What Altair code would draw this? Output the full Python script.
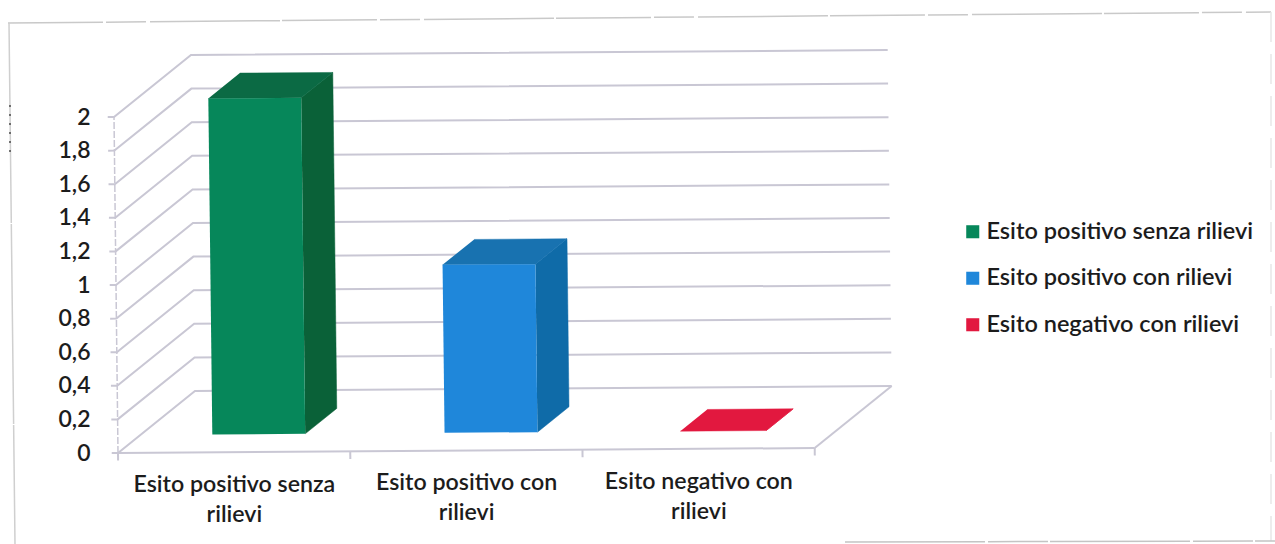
import altair as alt
import pandas as pd

# Chart values
CATEGORIES = ["Esito positivo senza rilievi", "Esito positivo con rilievi", "Esito negativo con rilievi"]
VALUES = [2, 1, 0]
AXIS_LABELS = ["Esito positivo senza\nrilievi", "Esito positivo con\nrilievi", "Esito negativo con\nrilievi"]
TICKS = [0, 0.2, 0.4, 0.6, 0.8, 1, 1.2, 1.4, 1.6, 1.8, 2]

FRONT = ["#06875a", "#1f87da", "#e2183f"]
SIDE = ["#0a6138", "#0f6ba8", "#e2183f"]
TOP = ["#0b6a44", "#1872b0", "#e2183f"]
GRID = "#c9c7d4"
FONT = "Lato"
WEIGHT = 600

# Oblique projection of (category, value, depth) into the chart's data space
DEPTH_X, DEPTH_Y = 0.3314, 0.369
TILT, LEAN = 0.0099, 0.0086
BAR_START = [0.31, 0.31, 0.325]
BAR_WIDTH = [0.40, 0.40, 0.37]
DEPTH_NEAR = 0.29
DEPTH_FAR = [0.70, 0.70, 0.64]


def project(cat, val, depth):
    return cat + depth * DEPTH_X - val * LEAN, val + cat * TILT + depth * DEPTH_Y


def path(rows, name):
    out = []
    for i, (c, v, d) in enumerate(rows):
        px, py = project(c, v, d)
        out.append({"px": px, "py": py, "seq": i, "path": name})
    return out


x_scale = alt.Scale(domain=[0, 3.35], nice=False, zero=False)
y_scale = alt.Scale(domain=[0, 2.5], nice=False, zero=False)
X = alt.X("px:Q", scale=x_scale, axis=None)
Y = alt.Y(
    "py:Q",
    scale=y_scale,
    axis=alt.Axis(
        values=TICKS,
        labelExpr="replace(format(datum.value, '.1~f'), '.', ',')",
        domain=False,
        ticks=False,
        grid=False,
        title=None,
        labelPadding=28,
        labelFont=FONT,
        labelFontSize=23,
        labelFontWeight=WEIGHT,
        labelColor="#1c1c1c",
    ),
)

# Wall and floor gridlines, with their tick stubs
grid_rows = []
for t in TICKS:
    grid_rows += path([(-0.027, t, 0), (0, t, 0), (0, t, 1), (3, t, 1)], f"g{t}")
grid_rows += path([(3, 0, 1), (3, 0, 0)], "floor-edge")
grid = alt.Chart(pd.DataFrame(grid_rows)).mark_line(color=GRID, strokeWidth=2, clip=False).encode(
    x=X, y=Y, detail="path:N", order="seq:Q"
)

axis_rows = path([(0, 0, 0), (3, 0, 0)], "x-axis")
for c in range(4):
    axis_rows += path([(c, 0, 0), (c, -0.045, 0)], f"t{c}")
axes = alt.Chart(pd.DataFrame(axis_rows)).mark_line(color=GRID, strokeWidth=2, clip=False).encode(
    x=X, y=Y, detail="path:N", order="seq:Q"
)

# The vertical axis reads lighter and broken
value_axis = alt.Chart(pd.DataFrame(path([(0, 0, 0), (0, 2, 0)], "y-axis"))).mark_line(
    color=GRID, strokeWidth=1.5, strokeDash=[7, 2], clip=False
).encode(x=X, y=Y, order="seq:Q")

# Bar faces, each computed from its value
layers = [grid, axes, value_axis]
front_rows = []
for i, (name, v) in enumerate(zip(CATEGORIES, VALUES)):
    x0, x1 = i + BAR_START[i], i + BAR_START[i] + BAR_WIDTH[i]
    n, f = DEPTH_NEAR, DEPTH_FAR[i]
    for color, rows in (
        (SIDE[i], [(x1, 0, n), (x1, 0, f), (x1, v, f), (x1, v, n)]),
        (TOP[i], [(x0, v, n), (x1, v, n), (x1, v, f), (x0, v, f)]),
    ):
        layers.append(
            alt.Chart(pd.DataFrame(path(rows, name)))
            .mark_line(filled=True, color=color, fill=color, stroke=color, strokeWidth=0.5, clip=False)
            .encode(x=X, y=Y, order="seq:Q")
        )
    for r in path([(x0, 0, n), (x1, 0, n), (x1, v, n), (x0, v, n)], name):
        r["serie"] = name
        front_rows.append(r)

front = alt.Chart(pd.DataFrame(front_rows)).mark_line(filled=True, clip=False).encode(
    x=X,
    y=Y,
    order="seq:Q",
    color=alt.Color(
        "serie:N",
        scale=alt.Scale(domain=CATEGORIES, range=FRONT),
        sort=CATEGORIES,
        legend=alt.Legend(
            title=None,
            orient="none",
            legendX=843,
            legendY=187,
            symbolType="square",
            symbolSize=170,
            symbolStrokeWidth=0,
            symbolOpacity=1,
            labelFont=FONT,
            labelFontSize=23.5,
            labelFontWeight=WEIGHT,
            labelColor="#1c1c1c",
            labelLimit=320,
            labelOffset=2,
            rowPadding=21.5,
            values=CATEGORIES,
        ),
    ),
)
layers.append(front)

# Category labels under the floor
label_rows = []
for i, lab in enumerate(AXIS_LABELS):
    px, py = project(i + 0.5, -0.13, 0)
    label_rows.append({"px": px, "py": py, "lab": lab})
labels = alt.Chart(pd.DataFrame(label_rows)).mark_text(
    lineBreak="\n", lineHeight=30, baseline="top", align="center",
    font=FONT, fontSize=23.2, fontWeight=WEIGHT, color="#1c1c1c", clip=False,
).encode(x=X, y=Y, text="lab:N")
layers.append(labels)

# Outer frame of the chart, worn in places
frame_rows = [
    {"x": -110, "y": -10, "x2": 1153, "y2": -21, "color": "#c9c9c9", "dash": [95, 3, 40, 4, 130, 2]},
    {"x": -109, "y": -10, "x2": -103, "y2": 511, "color": "#cfcfcf", "dash": [200, 1]},
    {"x": 1153, "y": -21, "x2": 1153, "y2": 508, "color": "#e8e8e8", "dash": [30, 12]},
    {"x": 727, "y": 509, "x2": 1157, "y2": 508, "color": "#c4c4c4", "dash": [140, 3, 60, 2]},
    {"x": -108, "y": 72, "x2": -108, "y2": 122, "color": "#4a4a4a", "dash": [2, 7]},
]
for fr in frame_rows:
    layers.append(
        alt.Chart(pd.DataFrame({"k": [0]}))
        .mark_rule(color=fr["color"], strokeWidth=1.5, strokeDash=fr["dash"])
        .encode(x=alt.value(fr["x"]), y=alt.value(fr["y"]), x2=alt.value(fr["x2"]), y2=alt.value(fr["y2"]))
    )

chart = (
    alt.layer(*layers)
    .resolve_scale(color="independent")
    .properties(
        width=778,
        height=420,
        autosize=alt.AutoSizeParams(type="none"),
        padding={"left": 118, "top": 33, "right": 379, "bottom": 91},
        background="white",
    )
    .configure_view(stroke=None)
)

chart.save("out.html", embed_options={"renderer": "svg", "actions": False})
